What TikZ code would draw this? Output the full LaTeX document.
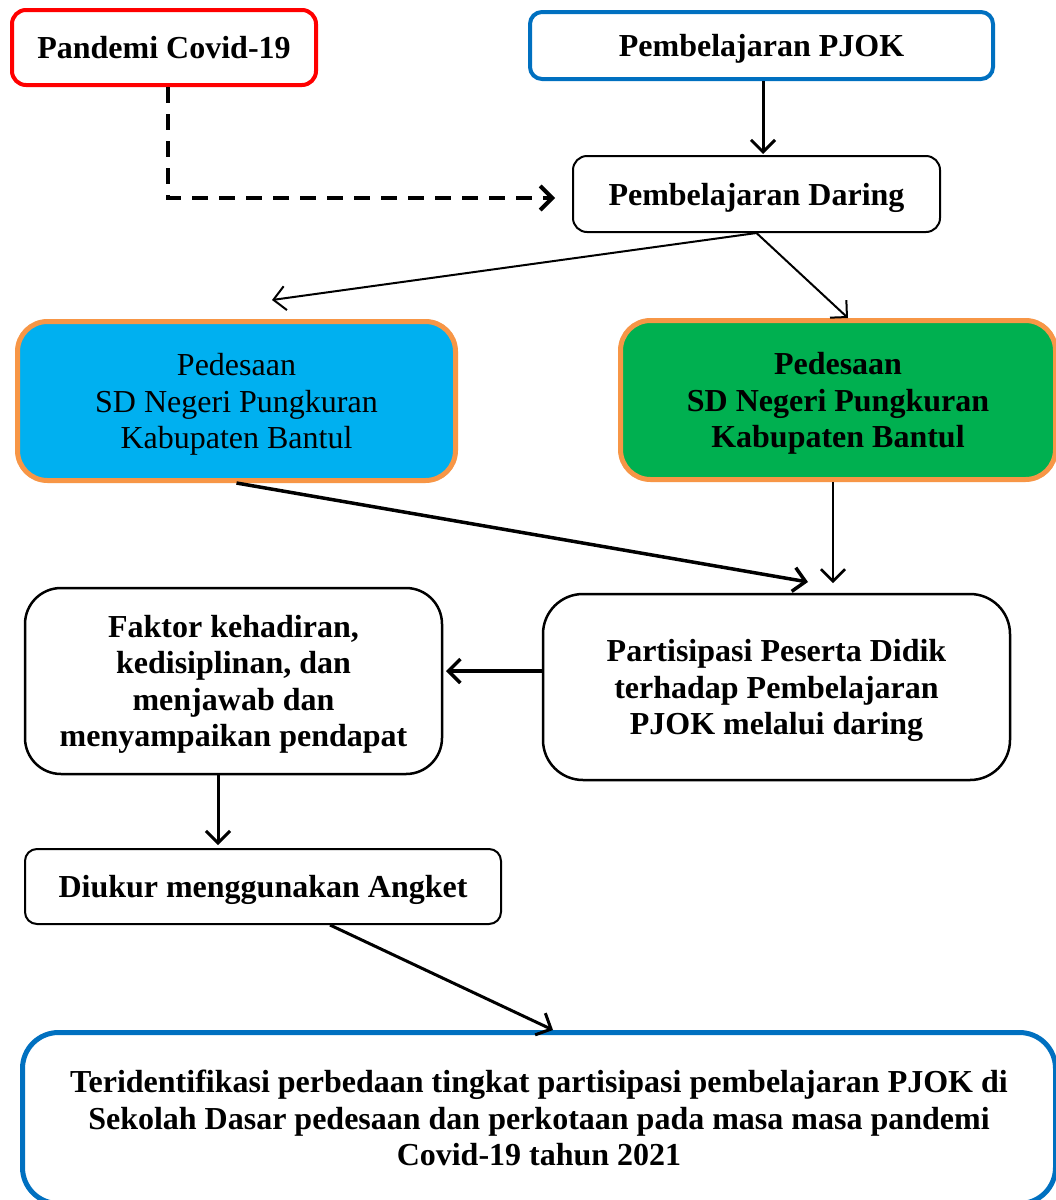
\documentclass[tikz,border=0pt]{standalone}
\usepackage{fontspec}
\setmainfont{Liberation Serif}
\usetikzlibrary{arrows.meta,calc}
\definecolor{cred}{HTML}{FF0000}
\definecolor{cblue}{HTML}{0070C0}
\definecolor{corange}{HTML}{F79646}
\definecolor{ccyan}{HTML}{00B0F0}
\definecolor{cgreen}{HTML}{00B050}
\begin{document}
\begin{tikzpicture}[x=1pt,y=-1pt,
  box/.style={draw, rounded corners=#1, align=center, inner sep=0pt, text depth=0pt,
    font=\fontsize{32}{36.5}\selectfont\bfseries},
  arr/.style={-{Straight Barb[length=12pt,width=24pt]}, line cap=butt},
  dline/.style={arr, dash pattern=on 16pt off 11pt, line width=4pt}]
\clip (0,0) rectangle (1056,1200);
\fill[white] (0,0) rectangle (1056,1200);

\node[box=14pt, draw=cred, line width=4pt, minimum width=304pt, minimum height=75pt] (pandemi) at (164,47.5) {Pandemi Covid-19};
\node[box=12pt, draw=cblue, line width=4pt, minimum width=463pt, minimum height=67pt] (pjok) at (761.5,45.5) {Pembelajaran PJOK};
\node[box=14pt, line width=2pt, minimum width=367pt, minimum height=76pt] (daring) at (756.5,194) {Pembelajaran Daring};
\node[box=30pt, draw=corange, fill=ccyan, line width=5pt, minimum width=438pt, minimum height=159pt,
  font=\fontsize{32}{36.5}\selectfont] (desa1) at (236.5,401) {Pedesaan\\SD Negeri Pungkuran\\Kabupaten Bantul};
\node[box=30pt, draw=corange, fill=cgreen, line width=5pt, minimum width=435pt, minimum height=159pt] (desa2) at (838,400) {Pedesaan\\SD Negeri Pungkuran\\Kabupaten Bantul};
\node[box=36pt, line width=2.5pt, minimum width=417pt, minimum height=186pt] (faktor) at (233.5,681) {Faktor kehadiran,\\kedisiplinan, dan\\menjawab dan\\menyampaikan pendapat};
\node[box=40pt, line width=2.5pt, minimum width=467pt, minimum height=186pt] (partisipasi) at (776.5,687) {Partisipasi Peserta Didik\\terhadap Pembelajaran\\PJOK melalui daring};
\node[box=12pt, line width=2pt, minimum width=476pt, minimum height=75pt] (diukur) at (263,886.5) {Diukur menggunakan Angket};
\node[box=36pt, draw=cblue, line width=5pt, minimum width=1033pt, minimum height=171pt] (hasil) at (539,1118) {Teridentifikasi perbedaan tingkat partisipasi pembelajaran PJOK di\\Sekolah Dasar pedesaan dan perkotaan pada masa masa pandemi\\Covid-19 tahun 2021};

\coordinate (dx) at (168,0);
\coordinate (dt) at (555,198);
\coordinate (px) at (763,0);
\coordinate (lt) at (272,300);
\coordinate (rt) at (848,318);
\coordinate (pt) at (808,582);
\coordinate (gt) at (833,583);
\coordinate (ft) at (446,671);
\coordinate (fd) at (218,0);
\coordinate (da) at (330,0);
\coordinate (db) at (553,0);

\draw[dline] (pandemi.south -| dx) |- (dt);
\draw[arr, line width=3pt] (pjok.south -| px) -- ($(daring.north -| px)+(0,-1)$);
\draw[arr, line width=2pt] (daring.south) -- (lt);
\draw[arr, line width=2pt] (daring.south) -- (rt);
\draw[arr, line width=3.5pt] (desa1.south) -- (pt);
\draw[arr, line width=2.5pt] (desa2.south -| gt) -- (gt);
\draw[arr, line width=3.5pt] (partisipasi.west |- ft) -- (ft);
\draw[arr, line width=3pt] (faktor.south -| fd) -- ($(diukur.north -| fd)+(0,-3)$);
\draw[arr, line width=3pt] (diukur.south -| da) -- (hasil.north -| db);
\end{tikzpicture}
\end{document}
